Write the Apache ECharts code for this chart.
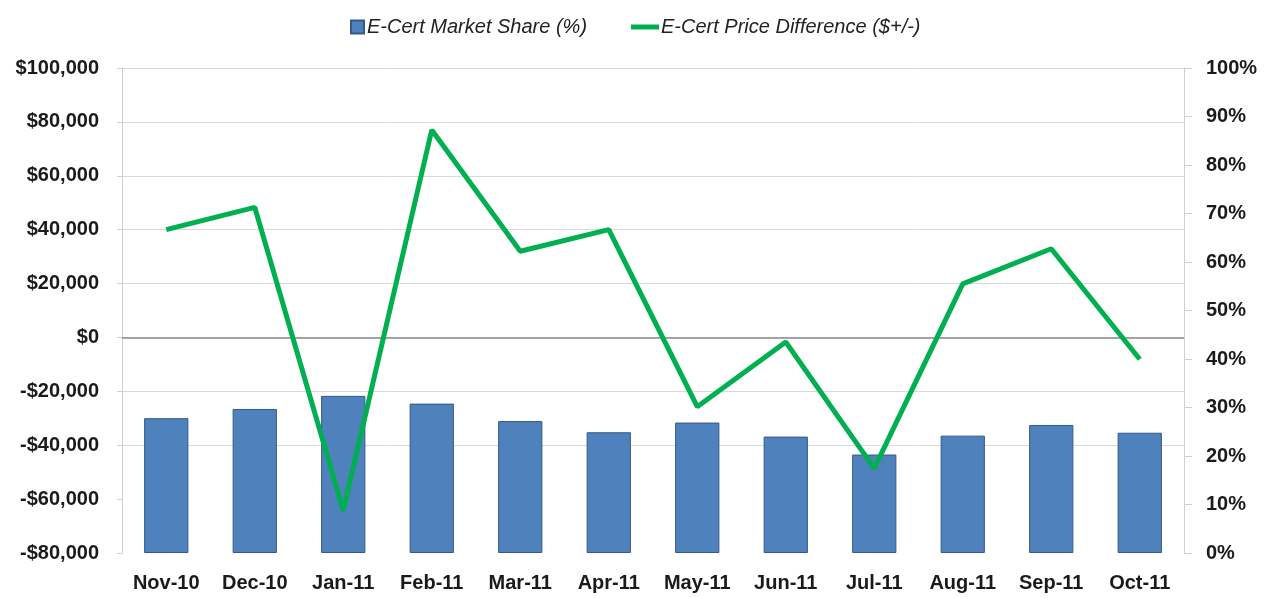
<!DOCTYPE html>
<html>
<head>
<meta charset="utf-8">
<script src="https://cdn.jsdelivr.net/npm/echarts@6/dist/echarts.min.js"></script>
<style>
  html, body { margin: 0; padding: 0; background: #fff; }
  #chart { width: 1274px; height: 598px; }
</style>
</head>
<body>
<div id="chart"></div>
<script>
// data
var months = ['Nov-10', 'Dec-10', 'Jan-11', 'Feb-11', 'Mar-11', 'Apr-11',
              'May-11', 'Jun-11', 'Jul-11', 'Aug-11', 'Sep-11', 'Oct-11'];
var marketShare = [27.8, 29.7, 32.4, 30.8, 27.2, 24.9, 26.9, 24.0, 20.3, 24.2, 26.4, 24.8];
var priceDiff = [40000, 48300, -64200, 77000, 32000, 40000, -25700, -1700, -48600, 19900, 32900, -8100];

var shareName = 'E-Cert Market Share (%)';
var priceName = 'E-Cert Price Difference ($+/-)';

var labelFont = {
    fontFamily: 'Liberation Sans',
    fontWeight: 'bold',
    fontSize: 20,
    color: '#1a1a1a'
};
var legendFont = {
    fontFamily: 'Liberation Sans',
    fontStyle: 'italic',
    fontSize: 20,
    color: '#222'
};

function money(v) {
    var s = Math.abs(v).toString().replace(/\B(?=(\d{3})+(?!\d))/g, ',');
    return (v < 0 ? '-$' : '$') + s;
}

// no gridlines at -80,000 and -60,000 in the original
var grey = '#d9d9d9';
var gridColors = ['rgba(0,0,0,0)', 'rgba(0,0,0,0)', grey, grey, grey, grey, grey, grey, grey, grey];

var chart = echarts.init(document.getElementById('chart'));
chart.setOption({
    animation: false,
    backgroundColor: '#fff',
    grid: { left: 122, right: 90, top: 68, bottom: 45 },
    legend: [{
        data: [{ name: shareName, icon: 'rect' }],
        left: 345, top: 12,
        itemWidth: 13, itemHeight: 13,
        textStyle: Object.assign({ padding: [0, 0, 0, -2] }, legendFont)
    }, {
        data: [{ name: priceName, icon: 'path://M0,0L28,0L28,5L0,5Z' }],
        left: 626, top: 12,
        itemWidth: 28, itemHeight: 5,
        textStyle: Object.assign({ padding: [0, 0, 0, -3] }, legendFont)
    }],
    xAxis: {
        type: 'category',
        data: months,
        axisLine: { show: false },
        axisTick: { show: false },
        axisLabel: Object.assign({ margin: 20 }, labelFont)
    },
    yAxis: [{
        type: 'value',
        min: -80000, max: 100000, interval: 20000,
        axisLine: { show: true, lineStyle: { color: '#cfcfcf' } },
        axisTick: { show: true, length: 5, lineStyle: { color: '#cfcfcf' } },
        splitLine: { lineStyle: { color: gridColors } },
        axisLabel: Object.assign({ margin: 23, formatter: money }, labelFont)
    }, {
        type: 'value',
        min: 0, max: 100, interval: 10,
        position: 'right',
        axisLine: { show: true, lineStyle: { color: '#cfcfcf' } },
        axisTick: { show: true, length: 8, lineStyle: { color: '#cfcfcf' } },
        splitLine: { show: false },
        axisLabel: Object.assign({ margin: 22, formatter: '{value}%' }, labelFont)
    }],
    series: [{
        name: shareName,
        type: 'bar',
        yAxisIndex: 1,
        data: marketShare,
        barWidth: '50%',
        itemStyle: { color: '#4F81BD', borderColor: '#34598a', borderWidth: 1 }
    }, {
        name: priceName,
        type: 'line',
        yAxisIndex: 0,
        data: priceDiff,
        symbol: 'none',
        z: 5,
        lineStyle: { color: '#00B050', width: 5 },
        itemStyle: { color: '#00B050' },
        markLine: {
            silent: true,
            symbol: 'none',
            label: { show: false },
            lineStyle: { color: '#8a8a8a', width: 1.5, type: 'solid' },
            data: [{ yAxis: 0 }]
        }
    }]
});
</script>
</body>
</html>
